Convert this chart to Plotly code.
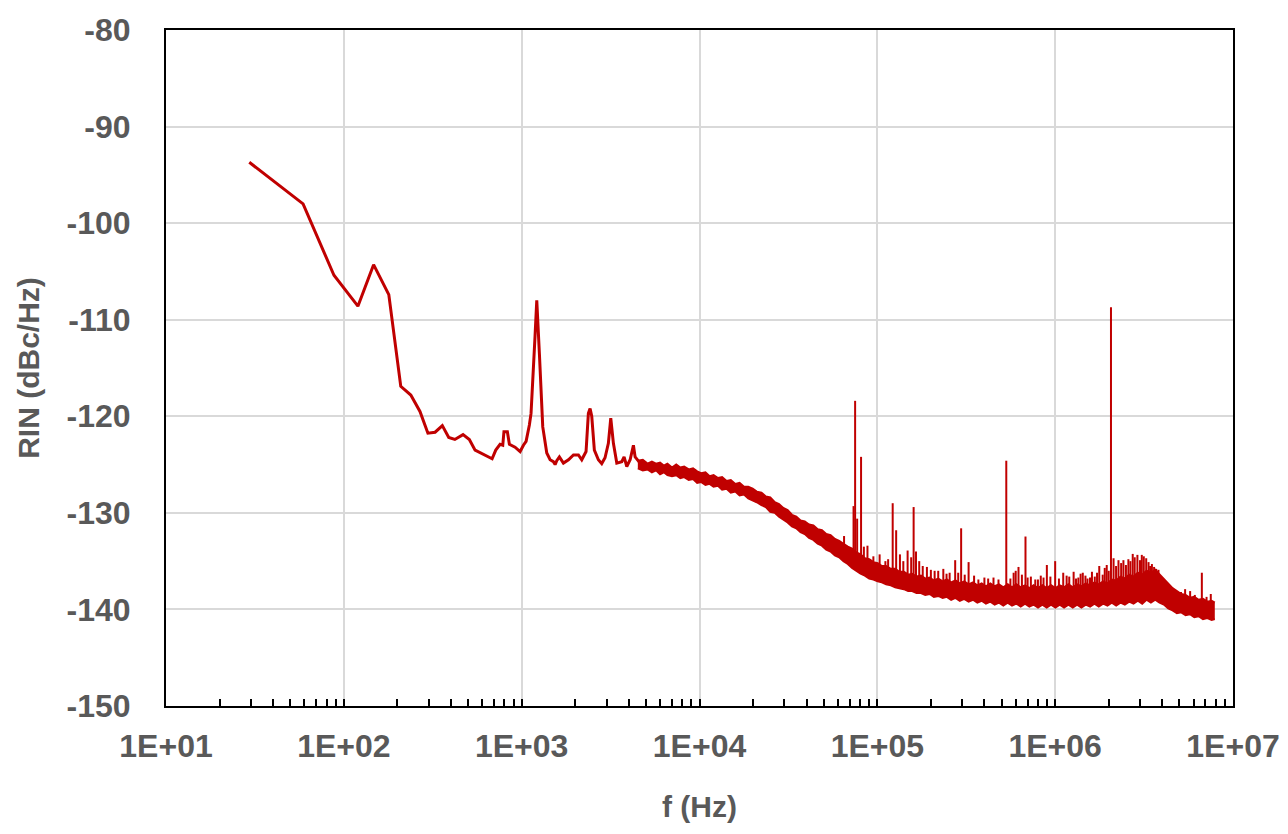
import plotly.graph_objects as go

RED = "#C00000"
GREY = "#595959"
FONT = "Liberation Sans, Arial, sans-serif"

# ---- low-frequency part (single trace) ----
f_low = [29.4, 59, 88, 120, 147, 179, 209, 238, 268, 297, 326, 358, 389, 421, 468, 508,
         547, 609, 682, 715, 756, 783, 795, 831, 853, 918, 980, 1023, 1059, 1105, 1129,
         1189, 1216, 1258, 1314, 1384, 1445, 1508, 1542, 1575, 1630, 1717, 1833, 1955,
         2085, 2177, 2302, 2372, 2425, 2478, 2563, 2700, 2820, 2943, 3073, 3170, 3280,
         3427, 3656, 3767, 3900, 4073, 4250, 4345, 4634]
rin_low = [-93.7, -98.0, -105.4, -108.6, -104.3, -107.4, -116.9, -117.8, -119.5, -121.75,
           -121.65, -120.96, -122.2, -122.4, -121.9, -122.4, -123.5, -123.9, -124.4, -123.5,
           -122.9, -123.0, -121.6, -121.6, -122.9, -123.2, -123.65, -123.0, -122.6, -120.9,
           -119.7, -111.7, -108.0, -113.5, -121.1, -123.8, -124.5, -124.7, -125.0, -124.6,
           -124.2, -124.85, -124.5, -124.0, -124.0, -124.5, -123.65, -119.7, -119.2, -120.0,
           -123.5, -124.5, -124.9, -124.3, -122.8, -120.2, -122.8, -124.85, -124.7, -124.2,
           -125.2, -124.5, -123.0, -124.2, -124.85]

# ---- noisy band: lower / upper envelope ----
f_band = [4500, 4800, 5100, 5400, 5700, 6000, 6300, 6600, 7000, 7400, 7800, 8200, 8700, 9200,
          9700, 10200, 10800, 11400, 12000, 12700, 13400, 14200, 15000, 15900, 16800, 17800,
          18800, 19900, 21000, 22300, 23600, 25000, 26500, 28000, 29600, 31300, 33100, 35000,
          37000, 39100, 41300, 43700, 46200, 48800, 51600, 54600, 57700, 61000, 64500, 68200,
          72100, 76200, 80500, 85100, 90000, 95100, 100500, 106000, 112000, 119000, 126000,
          133000, 141000, 149000, 157000, 166000, 176000, 186000, 197000, 208000, 220000,
          233000, 246000, 260000, 275000, 291000, 308000, 326000, 345000, 365000, 386000,
          408000, 432000, 457000, 483000, 511000, 541000, 572000, 605000, 640000, 677000,
          716000, 757000, 801000, 847000, 896000, 948000, 1003000, 1061000, 1122000, 1187000,
          1256000, 1328000, 1405000, 1486000, 1572000, 1663000, 1759000, 1861000, 1968000,
          2082000, 2203000, 2330000, 2465000, 2607000, 2758000, 2917000, 3086000, 3264000,
          3453000, 3652000, 3863000, 4087000, 4323000, 4573000, 4837000, 5117000, 5413000,
          5726000, 6057000, 6407000, 6778000, 7170000, 7585000, 7900000]
rin_band_lo = [-125.4, -125.6, -125.5, -125.8, -125.6, -126.0, -125.8, -126.1, -126.2, -126.1,
               -126.4, -126.3, -126.6, -126.5, -126.9, -126.8, -127.1, -127.0, -127.3, -127.2,
               -127.6, -127.5, -127.9, -127.8, -128.2, -128.1, -128.5, -128.7, -128.9, -129.2,
               -129.4, -129.9, -130.0, -130.4, -130.7, -131.0, -131.4, -131.6, -132.0, -132.2,
               -132.6, -132.8, -133.2, -133.4, -133.8, -134.0, -134.4, -134.6, -135.0, -135.3,
               -135.7, -136.0, -136.3, -136.5, -136.8, -136.9, -137.1, -137.2, -137.4, -137.5,
               -137.7, -137.8, -137.9, -138.1, -138.1, -138.3, -138.3, -138.5, -138.4, -138.7,
               -138.6, -138.8, -138.7, -139.0, -138.8, -139.1, -138.9, -139.2, -139.0, -139.3,
               -139.1, -139.4, -139.2, -139.5, -139.3, -139.6, -139.3, -139.6, -139.4, -139.7,
               -139.4, -139.7, -139.5, -139.8, -139.5, -139.8, -139.5, -139.8, -139.5, -139.8,
               -139.5, -139.8, -139.5, -139.8, -139.5, -139.7, -139.4, -139.7, -139.4, -139.6,
               -139.3, -139.6, -139.3, -139.5, -139.2, -139.4, -139.1, -139.4, -139.0, -139.3,
               -139.0, -139.3, -139.5, -139.9, -140.1, -140.4, -140.3, -140.6, -140.5, -140.8,
               -140.7, -141.0, -140.9, -141.1, -141.0]
rin_band_hi = [-124.6, -124.5, -124.9, -124.7, -124.9, -124.8, -125.1, -124.9, -125.3, -125.0,
               -125.3, -125.2, -125.5, -125.4, -125.7, -125.9, -125.8, -126.2, -126.1, -126.4,
               -126.3, -126.7, -126.6, -127.0, -126.9, -127.3, -127.3, -127.5, -127.8, -127.9,
               -128.3, -128.4, -128.9, -129.1, -129.5, -129.7, -130.2, -130.4, -130.8, -130.9,
               -131.2, -131.3, -131.7, -131.8, -132.2, -132.3, -132.7, -132.9, -133.2, -133.5,
               -133.7, -134.1, -134.3, -134.7, -134.8, -135.1, -135.2, -135.5, -135.5, -135.8,
               -135.8, -136.1, -136.1, -136.4, -136.3, -136.6, -136.5, -136.8, -136.7, -137.0,
               -136.8, -137.1, -136.9, -137.2, -137.0, -137.3, -137.1, -137.4, -137.2, -137.5,
               -137.3, -137.6, -137.3, -137.6, -137.4, -137.7, -137.4, -137.7, -137.4, -137.7,
               -137.5, -137.8, -137.5, -137.8, -137.5, -137.8, -137.5, -137.8, -137.5, -137.7,
               -137.4, -137.7, -137.4, -137.6, -137.3, -137.5, -137.2, -137.4, -137.1, -137.3,
               -136.9, -137.0, -136.6, -136.8, -136.4, -136.6, -136.2, -136.4, -136.0, -136.2,
               -135.9, -136.4, -136.9, -137.4, -137.8, -138.1, -138.4, -138.5, -138.8, -138.7,
               -139.0, -138.9, -139.2, -139.1, -139.3]

# ---- narrow spurs: frequency, level at band, peak level ----
f_spike = [65e3, 73.5e3, 75e3, 77e3, 81e3, 84e3, 88e3, 95e3, 103e3, 111e3, 115e3, 122e3,
           127.6e3, 134e3, 140e3, 148e3, 155e3, 160e3, 165e3, 172e3, 180e3, 190e3, 200e3,
           210e3, 220e3, 235e3, 245e3, 255e3, 274e3, 285e3, 296e3, 310e3, 326e3, 350e3,
           370e3, 400e3, 420e3, 450e3, 480e3, 531e3, 560e3, 584e3, 600e3, 622e3, 650e3,
           681e3, 700e3, 730e3, 773e3, 800e3, 830e3, 860e3, 898e3, 940e3, 1.0e6, 1.05e6,
           1.11e6, 1.16e6, 1.2e6, 1.27e6, 1.31e6, 1.35e6, 1.39e6, 1.43e6, 1.48e6, 1.52e6,
           1.57e6, 1.61e6, 1.67e6, 1.72e6, 1.77e6, 1.85e6, 1.9e6, 1.95e6, 2.0e6, 2.06e6,
           2.13e6, 2.2e6, 2.27e6, 2.35e6, 2.42e6, 2.5e6, 2.58e6, 2.65e6, 2.73e6, 2.8e6, 2.9e6,
           3.0e6, 3.07e6, 3.15e6, 3.25e6, 3.35e6, 3.42e6, 3.5e6, 3.6e6, 3.7e6, 3.81e6, 4.0e6,
           4.4e6, 5.1e6, 5.38e6, 5.74e6, 6.1e6, 6.68e6, 7.1e6, 7.5e6]
rin_spike_base = [-133.7, -134.2, -134.3, -134.4, -134.6, -134.8, -135.0, -135.3, -135.5,
                  -135.7, -135.8, -136.0, -136.1, -136.3, -136.4, -136.5, -136.6, -136.6,
                  -136.7, -136.8, -136.9, -137.0, -137.0, -137.1, -137.2, -137.2, -137.3,
                  -137.3, -137.4, -137.4, -137.5, -137.5, -137.6, -137.6, -137.7, -137.7,
                  -137.7, -137.8, -137.8, -137.9, -137.9, -137.9, -137.9, -137.9, -137.9,
                  -138.0, -138.0, -138.0, -138.0, -138.0, -138.0, -138.0, -138.0, -138.0,
                  -138.0, -138.0, -138.0, -138.0, -137.9, -137.9, -137.9, -137.9, -137.9,
                  -137.8, -137.8, -137.8, -137.8, -137.7, -137.7, -137.7, -137.6, -137.6,
                  -137.5, -137.5, -137.4, -137.4, -137.3, -137.3, -137.2, -137.1, -137.0,
                  -137.0, -136.9, -136.9, -136.8, -136.8, -136.7, -136.7, -136.6, -136.6,
                  -136.5, -136.5, -136.5, -136.4, -136.4, -136.5, -136.8, -137.4, -138.0,
                  -138.8, -139.0, -139.2, -139.2, -139.4, -139.5, -139.6]
rin_spike_peak = [-132.4, -129.3, -118.4, -130.6, -124.2, -133.5, -133.4, -134.5, -134.3,
                  -135.0, -134.8, -129.0, -131.8, -134.3, -135.0, -133.9, -134.6, -129.4,
                  -134.0, -135.0, -135.5, -135.6, -135.9, -136.0, -136.0, -135.8, -136.3,
                  -136.2, -134.9, -136.2, -131.6, -136.4, -135.1, -136.5, -136.9, -136.7,
                  -136.8, -136.7, -136.9, -124.6, -136.8, -136.2, -136.0, -135.6, -136.4,
                  -132.45, -136.7, -136.6, -136.9, -136.9, -136.5, -136.7, -135.4, -136.6,
                  -135.0, -136.8, -136.2, -136.5, -136.6, -136.1, -136.8, -136.7, -136.3,
                  -136.2, -136.5, -136.8, -136.7, -136.1, -136.6, -136.2, -135.5, -136.4,
                  -135.7, -135.4, -136.0, -108.7, -134.7, -135.5, -134.9, -135.2, -134.9,
                  -135.4, -134.8, -135.0, -134.25, -134.6, -134.35, -134.9, -134.35, -134.5,
                  -134.7, -135.1, -135.5, -135.3, -135.6, -135.8, -135.9, -136.8, -137.6,
                  -138.2, -137.9, -138.1, -138.5, -136.2, -138.7, -138.4]

# ---- axis labels ----
x_tickvals = [1e1, 1e2, 1e3, 1e4, 1e5, 1e6, 1e7]
x_ticktext = ["1E+01", "1E+02", "1E+03", "1E+04", "1E+05", "1E+06", "1E+07"]
y_tickvals = [-150, -140, -130, -120, -110, -100, -90, -80]
y_ticktext = ["-150", "-140", "-130", "-120", "-110", "-100", "-90", "-80"]

fig = go.Figure()

fig.add_trace(go.Scatter(x=f_low, y=rin_low, mode="lines",
                         line=dict(color=RED, width=3), showlegend=False))
fig.add_trace(go.Scatter(x=f_band, y=rin_band_lo, mode="lines",
                         line=dict(color=RED, width=2), showlegend=False))
fig.add_trace(go.Scatter(x=f_band, y=rin_band_hi, mode="lines", fill="tonexty",
                         fillcolor=RED, line=dict(color=RED, width=2), showlegend=False))

sx, sy = [], []
for f, b, p in zip(f_spike, rin_spike_base, rin_spike_peak):
    sx += [f, f, None]
    sy += [b, p, None]
fig.add_trace(go.Scatter(x=sx, y=sy, mode="lines",
                         line=dict(color=RED, width=2), showlegend=False))

minor_vals = [m * 10 ** k for k in range(1, 7) for m in range(2, 10)]

fig.update_layout(
    width=1288, height=834,
    margin=dict(l=158, r=63, t=22, b=136),
    paper_bgcolor="white", plot_bgcolor="white",
    font=dict(family=FONT, color=GREY),
)
fig.update_xaxes(
    type="log", range=[1, 7], automargin=False,
    tickmode="array", tickvals=x_tickvals, ticktext=x_ticktext,
    tickfont=dict(size=32, family=FONT, color=GREY, weight="bold"),
    ticks="inside", ticklen=7, tickwidth=1.5, tickcolor="black",
    ticklabelstandoff=11,
    showgrid=True, gridcolor="#D9D9D9", gridwidth=2,
    showline=True, linecolor="black", linewidth=2, mirror=True,
    minor=dict(tickvals=minor_vals, ticks="inside", ticklen=7, tickwidth=1.5,
               tickcolor="black", showgrid=False),
    title=dict(text="f (Hz)", font=dict(size=30, family=FONT, color=GREY, weight="bold"),
               standoff=33),
    zeroline=False,
)
fig.update_yaxes(
    range=[-150, -80], automargin=False,
    tickmode="array", tickvals=y_tickvals, ticktext=y_ticktext,
    tickfont=dict(size=32, family=FONT, color=GREY, weight="bold"),
    ticks="", ticklabelstandoff=27,
    showgrid=True, gridcolor="#D9D9D9", gridwidth=2,
    showline=True, linecolor="black", linewidth=2, mirror=True,
    title=dict(text="RIN (dBc/Hz)", font=dict(size=30, family=FONT, color=GREY, weight="bold"),
               standoff=18),
    zeroline=False,
)

fig.write_html("out.html")
